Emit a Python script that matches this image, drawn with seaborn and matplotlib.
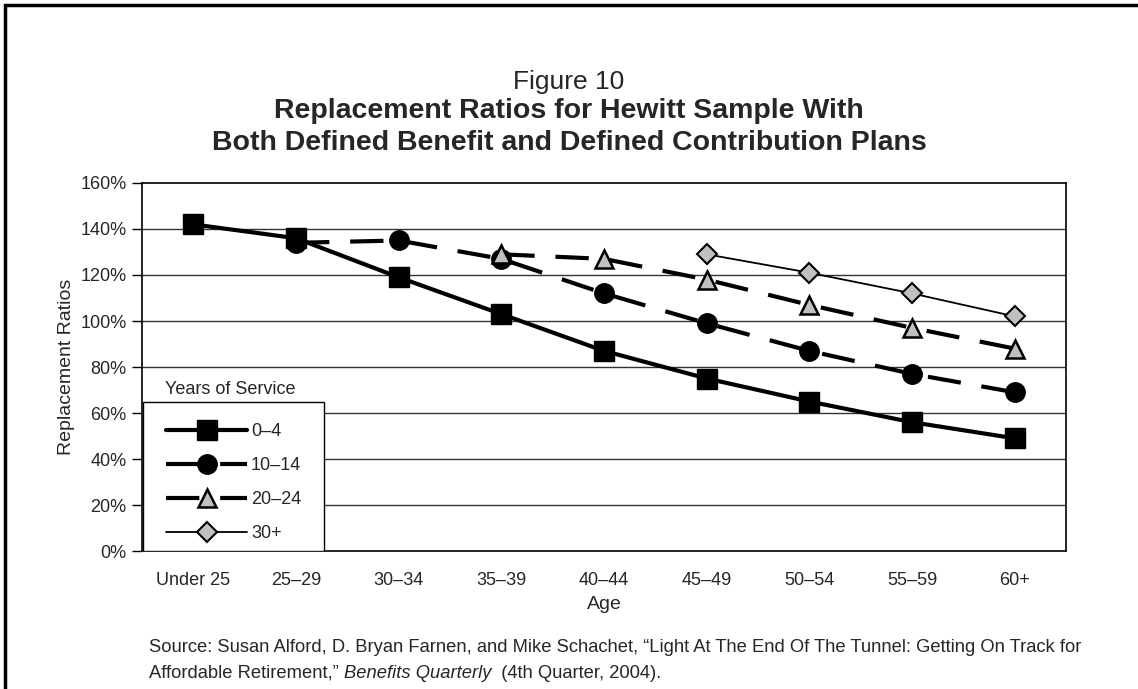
import numpy as np
import pandas as pd
import matplotlib
matplotlib.use("Agg")
import matplotlib.pyplot as plt
from matplotlib.patches import Rectangle
import seaborn as sns

# data (percent)
ages = ["Under 25", "25\u201329", "30\u201334", "35\u201339", "40\u201344",
        "45\u201349", "50\u201354", "55\u201359", "60+"]
yrs_0_4 = [142, 136, 119, 103, 87, 75, 65, 56, 49]
yrs_10_14 = [np.nan, 134, 135, 127, 112, 99, 87, 77, 69]
yrs_20_24 = [np.nan, np.nan, np.nan, 129, 127, 118, 107, 97, 88]
yrs_30_plus = [np.nan, np.nan, np.nan, np.nan, np.nan, 129, 121, 112, 102]
groups = ["0\u20134", "10\u201314", "20\u201324", "30+"]
y_ticks = [0, 20, 40, 60, 80, 100, 120, 140, 160]

sns.set_style("white")
plt.rcParams["font.family"] = ["Liberation Sans", "DejaVu Sans"]

rows = []
for g, vals in zip(groups, [yrs_0_4, yrs_10_14, yrs_20_24, yrs_30_plus]):
    for a, v in zip(ages, vals):
        if not np.isnan(v):
            rows.append({"age": a, "ratio": v, "group": g})
df = pd.DataFrame(rows)

styles = {
    "0\u20134": dict(lw=3.0, ls="-", marker="s", ms=14, mfc="black", mec="black"),
    "10\u201314": dict(lw=3.0, ls=(0, (8, 5)), marker="o", ms=14, mfc="black", mec="black"),
    "20\u201324": dict(lw=3.0, ls=(0, (8, 5)), marker="^", ms=13, mfc="#c0c0c0", mec="black", mew=1.8),
    "30+": dict(lw=1.3, ls="-", marker="D", ms=10, mfc="#c0c0c0", mec="black", mew=1.5),
}

fig = plt.figure(figsize=(11.38, 6.89), dpi=100)
ax = fig.add_axes([142 / 1138, 1 - 551 / 689, 924 / 1138, 368 / 689])

for g in groups:
    sub = df[df["group"] == g]
    s = styles[g]
    sns.lineplot(data=sub, x="age", y="ratio", ax=ax, color="black",
                 linewidth=s["lw"], linestyle=s["ls"], marker=s["marker"],
                 markersize=s["ms"], markerfacecolor=s["mfc"],
                 markeredgecolor=s["mec"], markeredgewidth=s.get("mew", 1),
                 label=g, zorder=5)

ax.set_xlim(-0.5, len(ages) - 0.5)
ax.set_ylim(0, 160)
ax.set_yticks(y_ticks)
ax.set_yticklabels([f"{t}%" for t in y_ticks])
ax.set_xticks(range(len(ages)))
ax.set_xticklabels(ages)
ax.set_xticks(np.arange(-0.5, len(ages), 1), minor=True)
ax.tick_params(axis="x", which="major", length=0, labelsize=13, pad=15)
ax.tick_params(axis="x", which="minor", length=7, width=1, direction="out", color="black")
ax.tick_params(axis="y", length=7, width=1, direction="out", color="black", labelsize=13, pad=4, left=True)
for t in y_ticks[1:-1]:
    ax.axhline(t, color="#333333", lw=1, zorder=1)
for sp in ax.spines.values():
    sp.set_color("black")
    sp.set_linewidth(1.2)
ax.set_xlabel("Age", fontsize=14, labelpad=5)
ax.set_ylabel("Replacement Ratios", fontsize=14, labelpad=4)

# legend: framed box with title sitting above it
ax.add_patch(Rectangle((1 / 924, 0), 181 / 924, 149 / 368, transform=ax.transAxes,
                       facecolor="white", edgecolor="black", lw=1, zorder=4))
handles, labels = ax.get_legend_handles_labels()
leg = ax.legend(handles, labels, loc="upper left", bbox_to_anchor=(24 / 924, 1 - 240 / 368),
                frameon=False, fontsize=13, handlelength=4.5, handletextpad=0.2,
                labelspacing=0.95, borderpad=0, borderaxespad=0)
leg.set_zorder(6)
ax.text(23 / 924, 1 - 206 / 368, "Years of Service", transform=ax.transAxes,
        fontsize=13, va="center", ha="left", zorder=6)

fig.text(0.5, 1 - 82 / 689, "Figure 10", ha="center", va="center", fontsize=19)
fig.text(0.5, 1 - 111 / 689, "Replacement Ratios for Hewitt Sample With",
         ha="center", va="center", fontsize=20.5, fontweight="bold")
fig.text(0.5, 1 - 143 / 689, "Both Defined Benefit and Defined Contribution Plans",
         ha="center", va="center", fontsize=20.5, fontweight="bold")

fs_src = 13.2
fig.text(149 / 1138, 1 - 648 / 689,
         "Source: Susan Alford, D. Bryan Farnen, and Mike Schachet, \u201cLight At The End Of The Tunnel: "
         "Getting On Track for", ha="left", va="center", fontsize=fs_src)
t1 = fig.text(149 / 1138, 1 - 673 / 689, "Affordable Retirement,\u201d ", ha="left", va="center", fontsize=fs_src)
fig.canvas.draw()
bb = t1.get_window_extent()
t2 = fig.text(bb.x1 / 1138, 1 - 673 / 689, "Benefits Quarterly", ha="left", va="center",
              fontsize=fs_src, style="italic")
bb2 = t2.get_window_extent()
fig.text(bb2.x1 / 1138, 1 - 673 / 689, "  (4th Quarter, 2004).", ha="left", va="center", fontsize=fs_src)

# outer frame (left and top edges visible)
fig.add_artist(Rectangle((5 / 1138, -0.05), 1.2, 1 - 5 / 689 + 0.05, transform=fig.transFigure,
                         fill=False, edgecolor="black", lw=2.5))

fig.savefig("out.png", dpi=100)
